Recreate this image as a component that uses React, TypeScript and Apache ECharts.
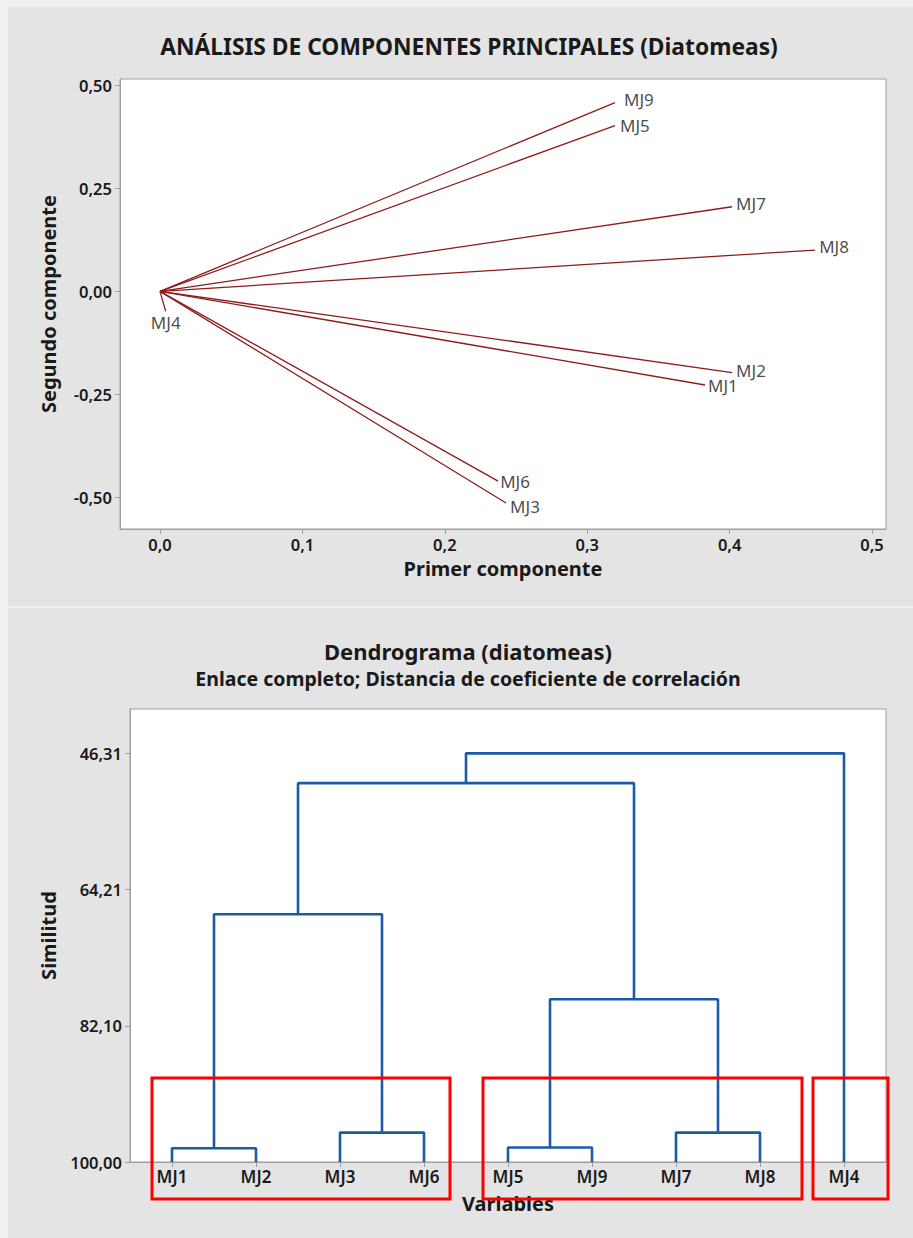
import React, { useEffect, useRef } from 'react';
import * as echarts from 'echarts';

// ---------- PCA loadings (biplot vectors) ----------
const pcaVars = ['MJ9', 'MJ5', 'MJ7', 'MJ8', 'MJ2', 'MJ1', 'MJ6', 'MJ3', 'MJ4'];
const pc1 = [0.3195, 0.3195, 0.4017, 0.46, 0.4017, 0.3827, 0.2374, 0.243, 0.004];
const pc2 = [0.4575, 0.4017, 0.205, 0.1, -0.197, -0.227, -0.46, -0.513, -0.0485];
const pcaXTicks = [0, 0.1, 0.2, 0.3, 0.4, 0.5];
const pcaYTicks = [-0.5, -0.25, 0, 0.25, 0.5];

// ---------- Dendrogram ----------
const leaves = ['MJ1', 'MJ2', 'MJ3', 'MJ6', 'MJ5', 'MJ9', 'MJ7', 'MJ8', 'MJ4'];
const mergeLeft = ['MJ1', 'MJ3', 'MJ5', 'MJ7', 'C1', 'C3', 'C5', 'C7'];
const mergeRight = ['MJ2', 'MJ6', 'MJ9', 'MJ8', 'C2', 'C4', 'C6', 'MJ4'];
const mergeSimilarity = [98.2, 96.14, 98.1, 96.14, 67.44, 78.61, 50.22, 46.31];
const simTicks = [46.31, 64.21, 82.1, 100.0];

// label placement style for the PCA endpoint labels
const labelStyle: Record<string, { position: string; distance: number; offset: number[] }> = {
  MJ9: { position: 'right', distance: 9, offset: [0, -3] },
  MJ5: { position: 'right', distance: 5, offset: [0, 0] },
  MJ7: { position: 'right', distance: 4, offset: [0, -3] },
  MJ8: { position: 'right', distance: 4, offset: [0, -4] },
  MJ2: { position: 'right', distance: 4, offset: [0, -2] },
  MJ1: { position: 'right', distance: 3, offset: [0, 1] },
  MJ6: { position: 'right', distance: 2, offset: [0, 0] },
  MJ3: { position: 'right', distance: 4, offset: [0, 3] },
  MJ4: { position: 'bottom', distance: 3, offset: [0, 0] },
};

const FONT = '"Noto Sans", "Open Sans", sans-serif';
const GRAY = '#9e9e9e';
const DARK = '#1a1a1a';
const VEC = '#8e1b1b';
const BLUE = '#1b5aa6';

const comma = (v: number, d: number) => v.toFixed(d).replace('.', ',');

export default function App() {
  const ref = useRef<HTMLDivElement>(null);
  useEffect(() => {
    document.body.style.margin = '0';
    const chart = echarts.init(ref.current!, null, { renderer: 'svg' });

    // dendrogram node positions
    const pos: Record<string, { x: number; h: number }> = {};
    leaves.forEach((n, i) => (pos[n] = { x: i + 1, h: 100 }));
    const dendroSeries: any[] = [];
    mergeLeft.forEach((l, k) => {
      const a = pos[l];
      const b = pos[mergeRight[k]];
      const h = mergeSimilarity[k];
      pos['C' + (k + 1)] = { x: (a.x + b.x) / 2, h };
      dendroSeries.push({
        type: 'line',
        xAxisIndex: 1,
        yAxisIndex: 1,
        data: [
          [a.x, a.h],
          [a.x, h],
          [b.x, h],
          [b.x, b.h],
        ],
        symbol: 'none',
        lineStyle: { color: BLUE, width: 2.6 },
        silent: true,
      });
    });

    const vecSeries = pcaVars.map((n, i) => ({
      type: 'line',
      xAxisIndex: 0,
      yAxisIndex: 0,
      data: [
        [0, 0],
        [pc1[i], pc2[i]],
      ],
      symbol: 'none',
      lineStyle: { color: VEC, width: 1.3 },
      silent: true,
    }));

    const labelSeries = {
      type: 'scatter',
      xAxisIndex: 0,
      yAxisIndex: 0,
      symbolSize: 0.1,
      itemStyle: { color: 'transparent' },
      data: pcaVars.map((n, i) => ({
        name: n,
        value: [pc1[i], pc2[i]],
        label: {
          show: true,
          formatter: '{b}',
          position: labelStyle[n].position,
          distance: labelStyle[n].distance,
          offset: labelStyle[n].offset,
          color: DARK,
          fontFamily: FONT,
          fontSize: 17,
        },
      })),
    };

    const axisCommon = {
      axisLine: { show: true, onZero: false, lineStyle: { color: GRAY, width: 1 } },
      splitLine: { show: false },
    };
    const nameStyle = { fontFamily: FONT, fontSize: 20, fontWeight: 'bold', color: DARK };
    const tickLabel = { fontFamily: FONT, fontSize: 16.5, fontWeight: 600, color: DARK };

    chart.setOption({
      animation: false,
      grid: [
        { left: 120, top: 79, width: 766, height: 450, show: true, borderColor: GRAY, borderWidth: 1, backgroundColor: '#ffffff' },
        { left: 130, top: 709, width: 756, height: 453, show: true, borderColor: GRAY, borderWidth: 1, backgroundColor: '#ffffff' },
      ],
      xAxis: [
        {
          gridIndex: 0,
          type: 'value',
          min: -0.0281,
          max: 0.5098,
          name: 'Primer componente',
          nameLocation: 'middle',
          nameGap: 29,
          nameTextStyle: nameStyle,
          ...axisCommon,
          axisTick: { show: true, length: 5, customValues: pcaXTicks, lineStyle: { color: GRAY } },
          axisLabel: { ...tickLabel, customValues: pcaXTicks, margin: 7, formatter: (v: number) => comma(v, 1) },
        },
        {
          gridIndex: 1,
          type: 'value',
          min: 0.5,
          max: 9.5,
          name: 'Variables',
          nameLocation: 'middle',
          nameGap: 31,
          nameTextStyle: nameStyle,
          ...axisCommon,
          axisTick: { show: true, length: 5, customValues: leaves.map((_, i) => i + 1), lineStyle: { color: GRAY } },
          axisLabel: {
            ...tickLabel,
            fontSize: 17,
            customValues: leaves.map((_, i) => i + 1),
            margin: 6,
            formatter: (v: number) => leaves[Math.round(v) - 1] ?? '',
          },
        },
      ],
      yAxis: [
        {
          gridIndex: 0,
          type: 'value',
          min: -0.576,
          max: 0.5146,
          name: 'Segundo componente',
          nameLocation: 'middle',
          nameGap: 62,
          nameTextStyle: nameStyle,
          ...axisCommon,
          axisTick: { show: true, length: 5, customValues: pcaYTicks, lineStyle: { color: GRAY } },
          axisLabel: { ...tickLabel, customValues: pcaYTicks, margin: 8, formatter: (v: number) => comma(v, 2) },
        },
        {
          gridIndex: 1,
          type: 'value',
          min: 40.48,
          max: 100,
          inverse: true,
          name: 'Similitud',
          nameLocation: 'middle',
          nameGap: 72,
          nameTextStyle: nameStyle,
          ...axisCommon,
          axisTick: { show: true, length: 5, customValues: simTicks, lineStyle: { color: GRAY } },
          axisLabel: { ...tickLabel, customValues: simTicks, margin: 8, formatter: (v: number) => comma(v, 2) },
        },
      ],
      series: [...vecSeries, labelSeries, ...dendroSeries],
      graphic: [
        {
          type: 'text',
          x: 469,
          y: 46,
          style: {
            text: 'ANÁLISIS DE COMPONENTES PRINCIPALES (Diatomeas)',
            fontFamily: FONT,
            fontSize: 22.8,
            fontWeight: 'bold',
            fill: DARK,
            align: 'center',
            verticalAlign: 'middle',
          },
        },
        {
          type: 'text',
          x: 468,
          y: 651,
          style: {
            text: 'Dendrograma (diatomeas)',
            fontFamily: FONT,
            fontSize: 22,
            fontWeight: 'bold',
            fill: DARK,
            align: 'center',
            verticalAlign: 'middle',
          },
        },
        {
          type: 'text',
          x: 468,
          y: 678,
          style: {
            text: 'Enlace completo; Distancia de coeficiente de correlación',
            fontFamily: FONT,
            fontSize: 19.5,
            fontWeight: 'bold',
            fill: DARK,
            align: 'center',
            verticalAlign: 'middle',
          },
        },
        {
          type: 'rect',
          z: 100,
          shape: { x: 152, y: 1078, width: 298, height: 121 },
          style: { fill: 'none', stroke: '#ff0000', lineWidth: 3 },
        },
        {
          type: 'rect',
          z: 100,
          shape: { x: 483, y: 1078, width: 319, height: 121 },
          style: { fill: 'none', stroke: '#ff0000', lineWidth: 3 },
        },
        {
          type: 'rect',
          z: 100,
          shape: { x: 813, y: 1078, width: 75, height: 121 },
          style: { fill: 'none', stroke: '#ff0000', lineWidth: 3 },
        },
      ],
    });
    return () => chart.dispose();
  }, []);

  return (
    <div style={{ position: 'relative', width: 913, height: 1238, background: '#f1f1f1', overflow: 'hidden' }}>
      <div style={{ position: 'absolute', left: 8, top: 7, width: 905, height: 599, background: '#e4e4e4' }} />
      <div style={{ position: 'absolute', left: 8, top: 608, width: 905, height: 630, background: '#e4e4e4' }} />
      <div ref={ref} style={{ position: 'absolute', left: 0, top: 0, width: 913, height: 1238 }} />
    </div>
  );
}
